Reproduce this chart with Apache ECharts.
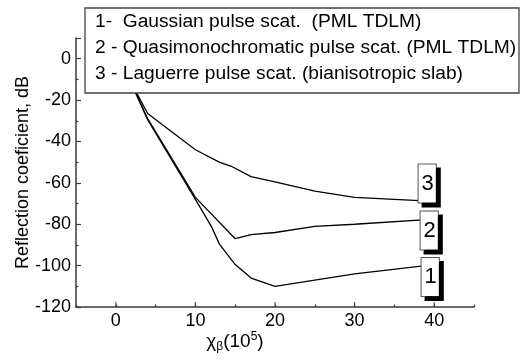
<!DOCTYPE html>
<html>
<head>
<meta charset="utf-8">
<script src="https://cdn.jsdelivr.net/npm/echarts@6/dist/echarts.min.js"></script>
<style>
  html, body { margin: 0; padding: 0; background: #fff; }
  #chart { width: 525px; height: 360px; }
</style>
</head>
<body>
<div id="chart"></div>
<script>
// values
const x1 = [2, 4, 10, 12, 13, 15, 17, 20, 30, 40];
const curve1 = [-12.5, -29.5, -68, -81, -89.5, -99.5, -106, -110, -104, -99.5];
const x2 = [2, 4, 10, 15, 17, 20, 25, 30, 40];
const curve2 = [-12, -29, -67, -87, -85, -84, -81, -80, -77.5];
const x3 = [2, 4, 10, 13, 14.5, 17, 20, 25, 30, 40];
const curve3 = [-12, -26.5, -44, -50, -52, -57, -59.5, -64, -67, -69];
const xMajorTicks = [0, 10, 20, 30, 40];
const curveNames = ['1', '2', '3'];
const legendLines = [
  '1-  Gaussian pulse scat.  (PML TDLM)',
  '2 - Quasimonochromatic pulse scat. (PML TDLM)',
  '3 - Laguerre pulse scat. (bianisotropic slab)'
];

const font = 'Liberation Sans, Arial, sans-serif';
const axisColor = '#3a3a3a';
const pair = (xs, ys) => xs.map((x, i) => [x, ys[i]]);

const chart = echarts.init(document.getElementById('chart'));

const boxLabel = (offset) => ({
  show: true,
  formatter: '{a}',
  distance: 0,
  align: 'center',
  verticalAlign: 'middle',
  offset: offset,
  fontFamily: font,
  fontSize: 22,
  lineHeight: 22,
  color: '#000',
  backgroundColor: '#fff',
  borderColor: '#555',
  borderWidth: 1,
  padding: [8, 2, 8, 3],
  shadowColor: '#000',
  shadowOffsetX: 4,
  shadowOffsetY: 4,
  shadowBlur: 0
});

const lineSeries = (name, data, offset) => ({
  name: name,
  type: 'line',
  data: data,
  symbol: 'none',
  lineStyle: { color: '#000', width: 1.3 },
  endLabel: boxLabel(offset),
  z: 2
});

chart.setOption({
  animation: false,
  backgroundColor: '#fff',
  textStyle: { fontFamily: font },
  grid: { left: 76, right: 51, top: 38, bottom: 53, containLabel: false, outerBoundsMode: 'none' },
  xAxis: {
    type: 'value',
    min: -5,
    max: 45,
    interval: 5,
    name: '{n|χ}{sub|β}{n|(10}{sup|5}{n|)}',
    nameLocation: 'middle',
    nameGap: 24,
    nameMoveOverlap: false,
    nameTextStyle: {
      padding: [0, 80, 0, 0],
      rich: {
        n: { fontFamily: font, fontSize: 19, lineHeight: 22, verticalAlign: 'middle', color: '#000' },
        sub: { fontFamily: font, fontSize: 12, lineHeight: 12, verticalAlign: 'bottom', color: '#000' },
        sup: { fontFamily: font, fontSize: 12, lineHeight: 12, verticalAlign: 'top', color: '#000' }
      }
    },
    axisLine: { onZero: false, lineStyle: { color: axisColor, width: 1.5 } },
    axisTick: { inside: true, length: 2.5, lineStyle: { color: axisColor, width: 1.2 } },
    axisLabel: {
      color: '#000', fontFamily: font, fontSize: 18, margin: 5,
      formatter: v => (v % 10 === 0 ? String(v) : '')
    },
    splitLine: { show: false }
  },
  yAxis: {
    type: 'value',
    min: -120,
    max: 10,
    interval: 20,
    name: 'Reflection coeficient, dB',
    nameLocation: 'middle',
    nameGap: 44,
    nameMoveOverlap: false,
    nameTextStyle: { color: '#000', fontFamily: font, fontSize: 18 },
    axisLine: { show: true, onZero: false, lineStyle: { color: axisColor, width: 1.5 } },
    axisTick: { inside: true, length: 5, lineStyle: { color: axisColor, width: 1.2 } },
    minorTick: { show: true, splitNumber: 2, length: 2.5, lineStyle: { color: axisColor, width: 1.2 } },
    axisLabel: { color: '#000', fontFamily: font, fontSize: 18, margin: 5, showMaxLabel: false },
    splitLine: { show: false }
  },
  series: [
    lineSeries(curveNames[0], pair(x1, curve1), [-4, 12.5]),
    lineSeries(curveNames[1], pair(x2, curve2), [-5, 11.5]),
    lineSeries(curveNames[2], pair(x3, curve3), [-7, -18]),
    {
      // long ticks at the labelled x values
      type: 'scatter',
      silent: true,
      data: xMajorTicks.map(v => [v, -120]),
      symbol: 'rect',
      symbolSize: [1.3, 5],
      symbolOffset: [0, -2.5],
      itemStyle: { color: axisColor },
      z: 5
    }
  ],
  graphic: [
    {
      type: 'rect',
      z: 100,
      shape: { x: 85, y: 8, width: 434, height: 85 },
      style: { fill: '#fff', stroke: '#444', lineWidth: 1.3 }
    }
  ].concat(legendLines.map((t, i) => ({
    type: 'text',
    z: 101,
    x: 95,
    y: 22 + i * 26,
    style: { text: t, fill: '#000', font: '19.2px ' + font, textVerticalAlign: 'middle' }
  })))
});
</script>
</body>
</html>
